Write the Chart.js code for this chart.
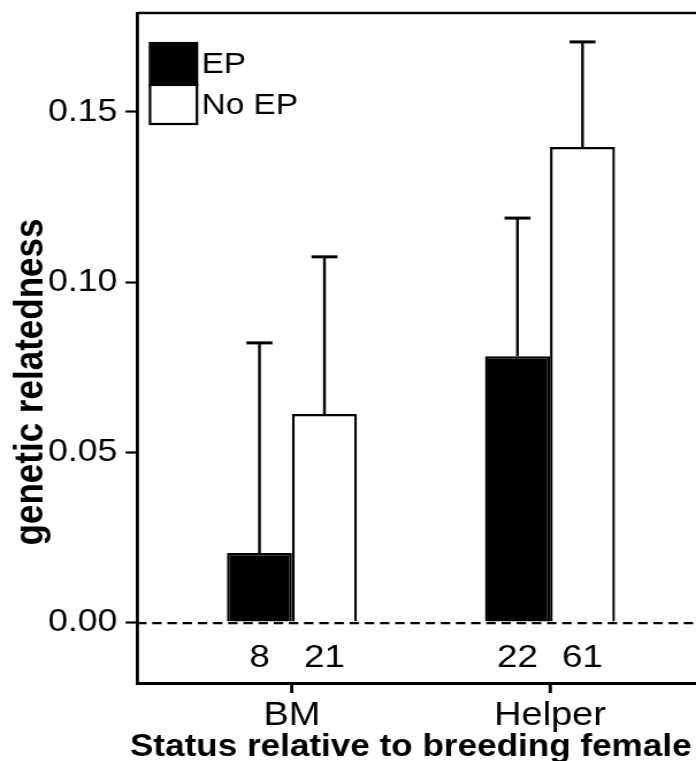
<!DOCTYPE html>
<html>
<head>
<meta charset="utf-8">
<script src="https://cdn.jsdelivr.net/npm/chart.js@4.4.1/dist/chart.umd.min.js"></script>
<style>
  html, body { margin: 0; padding: 0; background: #fff; overflow: hidden; }
  #wrap { width: 696px; height: 761px; overflow: hidden; }
  /* the figure is drawn on a narrower canvas and widened to the page */
  #c { transform: scaleX(1.1504); transform-origin: 0 0; display: block; }
</style>
</head>
<body>
<div id="wrap"><canvas id="c" width="605" height="761"></canvas></div>
<script>
// Mean genetic relatedness by status relative to the breeding female
const categories = ['BM', 'Helper'];
const seriesNames = ['EP', 'No EP'];
const epMeans = [0.0203, 0.0782];
const epUpper = [0.0821, 0.1188];
const noEpMeans = [0.0612, 0.1397];
const noEpUpper = [0.1074, 0.1706];
const epCounts = [8, 22];
const noEpCounts = [21, 61];
const yTicks = [0, 0.05, 0.10, 0.15];
const yTitle = 'genetic relatedness';
const xTitle = 'Status relative to breeding female';

const FONT = '"Liberation Sans", Arial, Helvetica, sans-serif';

// category i sits at x = i + 1 on a linear index axis
const toPoints = vals => vals.map((v, i) => ({ x: i + 1, y: v }));

// top edge of the frame, category tick marks and both axis titles
const frame = {
  id: 'frame',
  afterDraw(chart) {
    const { ctx, chartArea: a } = chart;
    const xs = chart.scales.x;
    ctx.save();
    ctx.strokeStyle = '#000';
    ctx.lineWidth = 2.6;
    ctx.beginPath();
    ctx.moveTo(a.left, a.top);
    ctx.lineTo(a.right + 5, a.top);
    ctx.stroke();

    ctx.lineWidth = 2.4;
    categories.forEach((c, i) => {
      const px = xs.getPixelForValue(i + 1);
      ctx.beginPath();
      ctx.moveTo(px, a.bottom);
      ctx.lineTo(px, a.bottom + 10);
      ctx.stroke();
    });

    ctx.fillStyle = '#000';
    ctx.textAlign = 'center';
    ctx.textBaseline = 'middle';
    ctx.font = 'bold 30.5px ' + FONT;
    ctx.fillText(xTitle, (a.left + a.right) / 2 - 5, 748);

    ctx.translate(27, (a.top + a.bottom) / 2 + 34);
    ctx.rotate(-Math.PI / 2);
    ctx.font = 'bold 35px ' + FONT;
    ctx.fillText(yTitle, 0, 0);
    ctx.restore();
  }
};

// upper error bars, dashed zero reference line and sample sizes
const annotations = {
  id: 'annotations',
  afterDatasetsDraw(chart) {
    const { ctx, chartArea: a } = chart;
    const ys = chart.scales.y;
    const y0 = ys.getPixelForValue(0);
    ctx.save();
    ctx.strokeStyle = '#000';

    ctx.lineWidth = 2.2;
    ctx.setLineDash([8.2, 5]);
    ctx.beginPath();
    ctx.moveTo(a.left, y0 + 1);
    ctx.lineTo(a.right, y0 + 1);
    ctx.stroke();
    ctx.setLineDash([]);

    chart.data.datasets.forEach((ds, i) => {
      const meta = chart.getDatasetMeta(i);
      meta.data.forEach((bar, j) => {
        const top = ys.getPixelForValue(ds.upper[j]);
        ctx.lineWidth = 2.4;
        ctx.beginPath();
        ctx.moveTo(bar.x, bar.y);
        ctx.lineTo(bar.x, top);
        ctx.stroke();
        ctx.lineWidth = 3;
        ctx.beginPath();
        ctx.moveTo(bar.x - 11.3, top);
        ctx.lineTo(bar.x + 11.3, top);
        ctx.stroke();

        ctx.fillStyle = '#000';
        ctx.font = '32px ' + FONT;
        ctx.textAlign = 'center';
        ctx.textBaseline = 'middle';
        ctx.fillText(String(ds.counts[j]), bar.x, y0 + 36);
      });
    });
    ctx.restore();
  }
};

// stacked legend keys in the top-left corner
const keyLegend = {
  id: 'keyLegend',
  afterDraw(chart) {
    const { ctx, chartArea: a } = chart;
    const x0 = a.left + 11.3, w = 40.8;
    let yTop = a.top + 30;
    const h = [42, 39];
    ctx.save();
    chart.data.datasets.forEach((ds, i) => {
      ctx.fillStyle = ds.backgroundColor;
      ctx.fillRect(x0, yTop, w, h[i]);
      ctx.strokeStyle = '#000';
      ctx.lineWidth = 2.2;
      ctx.strokeRect(x0, yTop, w, h[i]);
      ctx.fillStyle = '#000';
      ctx.font = '29px ' + FONT;
      ctx.textAlign = 'left';
      ctx.textBaseline = 'middle';
      ctx.fillText(ds.label, x0 + w + 4, yTop + h[i] / 2 + 1);
      yTop += h[i];
    });
    ctx.restore();
  }
};

new Chart(document.getElementById('c'), {
  type: 'bar',
  data: {
    datasets: [
      {
        label: seriesNames[0],
        data: toPoints(epMeans),
        upper: epUpper,
        counts: epCounts,
        backgroundColor: '#000000',
        borderColor: '#000000',
        borderWidth: 2.4
      },
      {
        label: seriesNames[1],
        data: toPoints(noEpMeans),
        upper: noEpUpper,
        counts: noEpCounts,
        backgroundColor: '#ffffff',
        borderColor: '#000000',
        borderWidth: 2.4
      }
    ]
  },
  options: {
    responsive: false,
    animation: false,
    devicePixelRatio: 1,
    categoryPercentage: 0.504,
    barPercentage: 1,
    layout: { padding: { top: 13, right: 0, left: 0, bottom: 0 } },
    plugins: {
      legend: { display: false },
      tooltip: { enabled: false }
    },
    scales: {
      x: {
        type: 'linear',
        offset: false,
        min: 0.3995,
        max: 2.5658,
        afterBuildTicks: s => { s.ticks = categories.map((c, i) => ({ value: i + 1 })); },
        afterFit: s => { s.height = 78; s.paddingLeft = 0; s.paddingRight = 0; },
        border: { display: true, color: '#000', width: 3 },
        grid: { offset: false, drawOnChartArea: false, drawTicks: true, tickLength: 10, tickColor: '#000', tickWidth: 2.4 },
        ticks: {
          color: '#000',
          font: { family: FONT, size: 33, lineHeight: 1.2 },
          padding: 3,
          maxRotation: 0,
          autoSkip: false,
          callback: v => categories[Math.round(v) - 1]
        }
      },
      y: {
        min: -0.0179,
        max: 0.1791,
        afterBuildTicks: s => { s.ticks = yTicks.map(v => ({ value: v })); },
        afterFit: s => { s.width = 119.1; s.paddingTop = 0; s.paddingBottom = 0; },
        border: { display: true, color: '#000', width: 2.8 },
        grid: { drawOnChartArea: false, drawTicks: true, tickLength: 10, tickColor: '#000', tickWidth: 2.2 },
        ticks: {
          color: '#000',
          font: { family: FONT, size: 31 },
          padding: 7,
          callback: v => v.toFixed(2)
        }
      }
    }
  },
  plugins: [frame, annotations, keyLegend]
});
</script>
</body>
</html>
